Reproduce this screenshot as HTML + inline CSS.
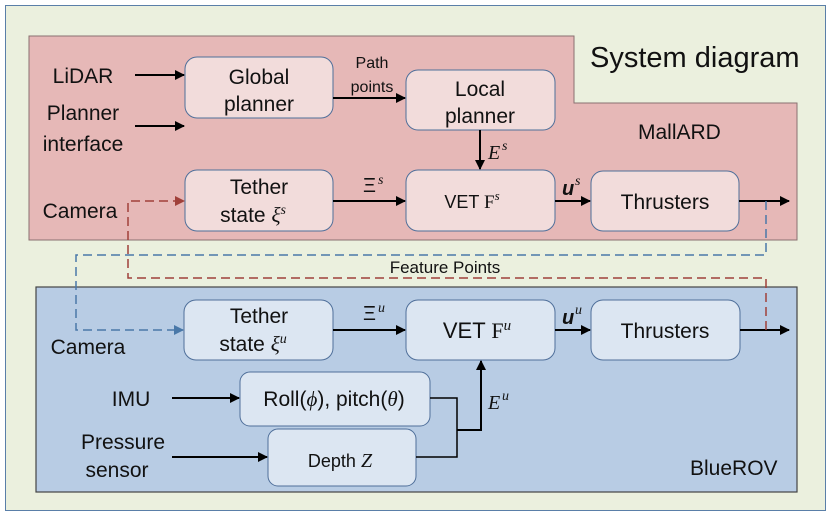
<!DOCTYPE html>
<html><head><meta charset="utf-8"><style>
body{margin:0;background:#fff}
svg text{font-family:"Liberation Sans",sans-serif;fill:#111}
.m{font-family:"Liberation Serif",serif;font-style:italic}
</style></head><body>
<svg width="830" height="514" viewBox="0 0 830 514" xmlns="http://www.w3.org/2000/svg">
<defs>
<marker id="a" markerWidth="10" markerHeight="10" refX="9" refY="5" orient="auto" markerUnits="userSpaceOnUse"><path d="M0,0 L10,5 L0,10 z" fill="#000"/></marker>
<marker id="ar" markerWidth="10" markerHeight="10" refX="9" refY="5" orient="auto" markerUnits="userSpaceOnUse"><path d="M0,0 L10,5 L0,10 z" fill="#a0403a"/></marker>
<marker id="ab" markerWidth="10" markerHeight="10" refX="9" refY="5" orient="auto" markerUnits="userSpaceOnUse"><path d="M0,0 L10,5 L0,10 z" fill="#4a78a8"/></marker>
</defs>
<rect x="5.5" y="5.5" width="820" height="505" fill="#ebf0de" stroke="#5a7fa8" stroke-width="1"/>
<polygon points="29,36 574,36 574,103 797,103 797,240 29,240" fill="#e6b8b7" stroke="#8a7070" stroke-width="1"/>
<rect x="36" y="287" width="761" height="205" fill="#b8cce4" stroke="#444" stroke-width="1.2"/>
<g fill="#f2dcdb" stroke="#4f6f9a" stroke-width="1">
<rect x="185" y="57" width="148" height="61" rx="12"/>
<rect x="406" y="70" width="149" height="60" rx="12"/>
<rect x="185" y="170" width="148" height="61" rx="12"/>
<rect x="406" y="170" width="149" height="61" rx="12"/>
<rect x="591" y="171" width="148" height="60" rx="12"/>
</g>
<g fill="#dce6f2" stroke="#4f6f9a" stroke-width="1">
<rect x="184" y="300" width="149" height="60" rx="12"/>
<rect x="406" y="300" width="149" height="60" rx="12"/>
<rect x="591" y="300" width="149" height="60" rx="12"/>
<rect x="240" y="372" width="190" height="54" rx="10"/>
<rect x="268" y="429" width="148" height="57" rx="10"/>
</g>
<g stroke="#000" stroke-width="2" fill="none">
<line x1="135" y1="75" x2="184" y2="75" marker-end="url(#a)"/>
<line x1="135" y1="126" x2="184" y2="126" marker-end="url(#a)"/>
<line x1="333" y1="98" x2="405" y2="98" marker-end="url(#a)"/>
<line x1="480" y1="130" x2="480" y2="169" marker-end="url(#a)"/>
<line x1="333" y1="201" x2="405" y2="201" marker-end="url(#a)"/>
<line x1="555" y1="201" x2="590" y2="201" marker-end="url(#a)"/>
<line x1="739" y1="201" x2="789" y2="201" marker-end="url(#a)"/>
<line x1="333" y1="330" x2="405" y2="330" marker-end="url(#a)"/>
<line x1="555" y1="330" x2="590" y2="330" marker-end="url(#a)"/>
<line x1="740" y1="330" x2="789" y2="330" marker-end="url(#a)"/>
<line x1="172" y1="398" x2="239" y2="398" marker-end="url(#a)"/>
<line x1="172" y1="457" x2="267" y2="457" marker-end="url(#a)"/>
<polyline points="430,398 457,398 457,457 416,457" stroke-width="1.5"/>
<polyline points="457,430 481,430 481,361" marker-end="url(#a)"/>
</g>
<polyline points="766,201 766,255 76,255 76,330 183,330" fill="none" stroke="#4a78a8" stroke-width="1.5" stroke-dasharray="9,5" marker-end="url(#ab)"/>
<polyline points="766,330 766,278 128,278 128,201 184,201" fill="none" stroke="#a0403a" stroke-width="1.5" stroke-dasharray="9,5" marker-end="url(#ar)"/>
<text x="590" y="67" font-size="29">System diagram</text>
<text x="638" y="139" font-size="21">MallARD</text>
<text x="690" y="475" font-size="21">BlueROV</text>
<g font-size="21" text-anchor="middle">
<text x="83" y="83">LiDAR</text>
<text x="83" y="120">Planner</text>
<text x="83" y="151">interface</text>
<text x="80" y="218">Camera</text>
<text x="88" y="354">Camera</text>
<text x="131" y="406">IMU</text>
<text x="123" y="449">Pressure</text>
<text x="117" y="477">sensor</text>
<text x="259" y="84">Global</text>
<text x="259" y="111">planner</text>
<text x="480" y="96">Local</text>
<text x="480" y="123">planner</text>
<text x="259" y="194">Tether</text>
<text x="253" y="222">state <tspan class="m">ξ</tspan><tspan class="m" font-size="14" dy="-8">s</tspan></text>
<text x="665" y="209">Thrusters</text>
<text x="259" y="323">Tether</text>
<text x="253" y="351">state <tspan class="m">ξ</tspan><tspan class="m" font-size="14" dy="-8">u</tspan></text>
<text x="477" y="338" font-size="22">VET <tspan font-family="Liberation Serif">F</tspan><tspan class="m" font-size="15" dy="-8">u</tspan></text>
<text x="665" y="338">Thrusters</text>
<text x="334" y="406">Roll(<tspan class="m">ϕ</tspan>), pitch(<tspan class="m">θ</tspan>)</text>
</g>
<text x="472" y="208" font-size="18" text-anchor="middle">VET <tspan font-family="Liberation Serif" font-size="19">F</tspan><tspan class="m" font-size="13" dy="-8">s</tspan></text>
<text x="340" y="467" font-size="18" text-anchor="middle">Depth <tspan class="m" font-size="20">Z</tspan></text>
<text x="372" y="68" font-size="16" text-anchor="middle">Path</text>
<text x="372" y="92" font-size="16" text-anchor="middle">points</text>
<text x="445" y="273" font-size="17" text-anchor="middle">Feature Points</text>
<g font-family="Liberation Serif" font-size="20">
<text x="488" y="159" class="m">E</text><text x="502" y="150" class="m" font-size="14">s</text>
<text x="488" y="409" class="m">E</text><text x="502" y="400" class="m" font-size="14">u</text>
<text x="363" y="192">Ξ</text><text x="378" y="184" class="m" font-size="14">s</text>
<text x="363" y="320">Ξ</text><text x="378" y="312" class="m" font-size="14">u</text>
<text x="562" y="195" font-weight="bold" font-style="italic">u</text><text x="575" y="185" class="m" font-size="14">s</text>
<text x="562" y="324" font-weight="bold" font-style="italic">u</text><text x="575" y="314" class="m" font-size="14">u</text>
</g>
</svg>
</body></html>
